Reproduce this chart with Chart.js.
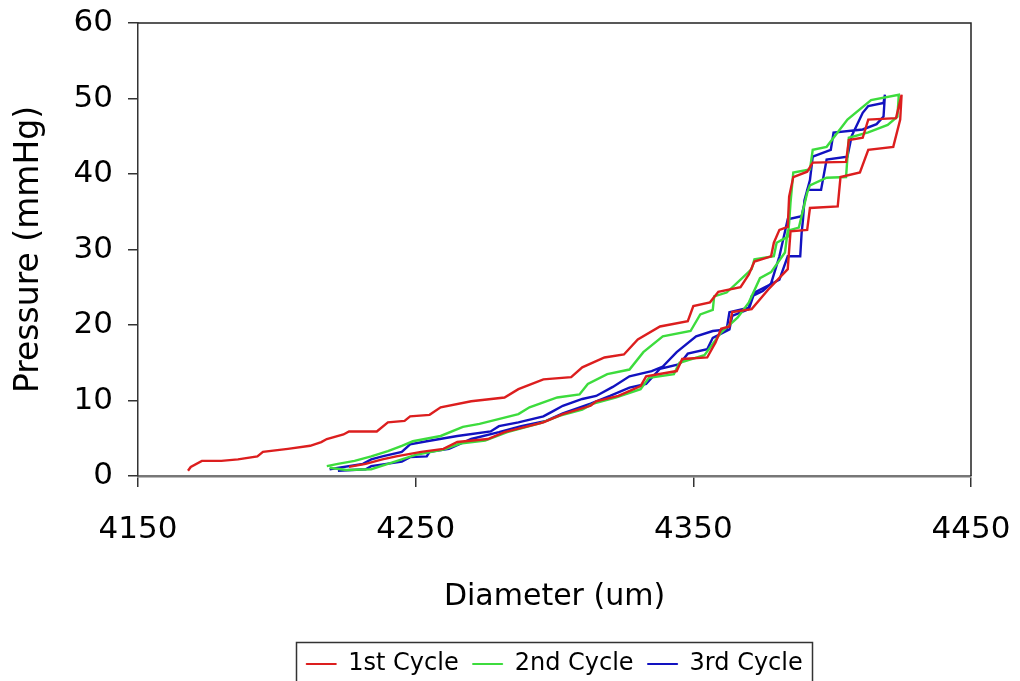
<!DOCTYPE html>
<html>
<head>
<meta charset="utf-8">
<script src="https://cdn.jsdelivr.net/npm/chart.js@4/dist/chart.umd.min.js"></script>
<style>
html,body{margin:0;padding:0;background:#fff;}
#wrap{width:1020px;height:681px;position:relative;}
</style>
</head>
<body>
<div id="wrap"><canvas id="c"></canvas></div>
<script>
// ---- data (diameter um, pressure mmHg) ----
const seriesNames = ['1st Cycle', '2nd Cycle', '3rd Cycle'];

const cycle1 = [
  [4168,0.7],[4169,1.2],[4173,2.0],[4180,2.0],[4186,2.2],[4193,2.6],[4195,3.2],[4204,3.6],
  [4212,4.0],[4216,4.5],[4218,4.9],[4224,5.5],[4226,5.9],[4236,5.9],[4240,7.1],[4246,7.3],
  [4248,7.9],[4255,8.1],[4259,9.1],[4270,9.9],[4282,10.4],[4287,11.5],[4296,12.8],[4306,13.1],
  [4310,14.4],[4318,15.7],[4325,16.1],[4330,18.1],[4338,19.8],[4348,20.5],[4350,22.5],[4356,23.0],
  [4359,24.4],[4367,25.0],[4370,26.7],[4372,28.4],[4378,29.1],[4379,30.9],[4381,32.6],[4384,33.0],
  [4384.5,37.0],[4386,39.6],[4391,40.3],[4393,41.5],[4405,41.6],[4406,44.5],[4411,44.8],[4413,47.2],
  [4423,47.4],[4425,50.5],
  [4424.5,47.2],[4422,43.6],[4413,43.2],[4410,40.2],[4403,39.6],[4402,35.7],[4392,35.5],[4391,32.6],
  [4385,32.4],[4384,27.4],[4377,24.7],[4371,22.1],[4364,21.7],[4363,19.8],[4360,19.5],[4358,17.7],
  [4355,15.7],[4346,15.5],[4344,13.9],[4333,13.2],[4331,11.9],[4323,10.6],[4315,9.9],[4313,9.3],
  [4303,8.2],[4296,7.1],[4282,5.8],[4276,4.9],[4265,4.5],[4260,3.6],[4252,3.2],[4243,2.6],
  [4238,2.2],[4232,1.6],[4226,1.2]
];

const cycle2 = [
  [4218,1.3],[4222,1.6],[4228,2.0],[4234,2.6],[4240,3.3],[4245,4.0],[4249,4.6],[4259,5.3],
  [4267,6.5],[4273,6.9],[4287,8.2],[4291,9.1],[4301,10.4],[4309,10.8],[4312,12.2],[4319,13.5],
  [4327,14.1],[4332,16.4],[4339,18.5],[4349,19.2],[4352.5,21.4],[4357,22.0],[4357.5,23.8],[4362,24.3],
  [4367,26.0],[4371,27.4],[4372,28.7],[4379,29.1],[4380,30.9],[4384,31.7],[4384.5,33.5],[4385,36.2],
  [4386,40.2],[4392,40.6],[4393,43.2],[4398,43.6],[4405.5,47.2],[4414,49.8],[4424,50.5],
  [4423.5,47.6],[4420,46.5],[4413,45.5],[4406,44.8],[4405,39.6],[4398,39.5],[4392,38.5],[4391,37.5],
  [4388,32.9],[4384,32.5],[4383,29.6],[4378,27.0],[4374,26.2],[4370,23.0],[4366,21.0],[4360,19.0],
  [4354,16.0],[4345,15.0],[4343,13.5],[4334,13.0],[4331,11.5],[4322,10.4],[4314,9.6],[4310,8.8],
  [4302,8.0],[4295,7.0],[4283,5.8],[4275,4.7],[4266,4.3],[4260,3.5],[4250,2.8],[4240,1.6],
  [4234,0.9],[4225,0.8],[4219,1.1]
];

const cycle3 = [
  [4219,0.9],[4231,1.6],[4234,2.2],[4238,2.6],[4245,3.2],[4248,4.2],[4254,4.6],[4265,5.3],
  [4277,5.9],[4280,6.6],[4287,7.1],[4296,7.9],[4299,8.5],[4303,9.3],[4310,10.2],[4315,10.6],
  [4321,11.8],[4327,13.2],[4335,13.9],[4339,14.5],[4344,16.4],[4351,18.5],[4357,19.2],[4362,19.4],
  [4363,21.7],[4370,22.3],[4371,23.8],[4375,24.5],[4378,25.5],[4381,29.1],[4384,34.0],[4389,34.4],
  [4391,37.9],[4396,37.9],[4398,41.9],[4405.5,42.3],[4407,45.0],[4411,48.1],[4413,49.0],[4418.5,49.4],
  [4419,50.5],
  [4418.5,47.6],[4416,46.6],[4411,45.9],[4400.5,45.5],[4399.5,43.2],[4393,42.3],[4392,39.2],[4390,36.5],
  [4389.5,34.0],[4389,32.2],[4388.5,29.1],[4384,29.1],[4381,26.0],[4372,24.3],[4370,22.1],[4364,21.2],
  [4363,19.4],[4357,18.3],[4355,16.8],[4348,16.2],[4345,14.8],[4338,14.2],[4333,12.2],[4327,11.7],
  [4320,10.6],[4313,9.6],[4303,8.3],[4297,7.3],[4288,6.6],[4280,5.8],[4270,4.9],[4262,3.6],
  [4255,3.2],[4254,2.6],[4248,2.5],[4245,1.9],[4234,1.3],[4232,0.9],[4222,0.7]
];

const xTicks = [4150, 4250, 4350, 4450];
const yTicks = [0, 10, 20, 30, 40, 50, 60];
const xTitle = 'Diameter (um)';
const yTitle = 'Pressure (mmHg)';
const seriesColors = ['#dc1e1e', '#3ddc3d', '#1212c0'];

// ---- chart ----
const FONT = 'DejaVu Sans';
const cycles = [cycle1, cycle2, cycle3];

const framePlugin = {
  id: 'frame',
  afterDraw(chart) {
    const {ctx, chartArea: a} = chart;
    ctx.save();
    ctx.strokeStyle = '#222';
    ctx.lineWidth = 1.5;
    ctx.beginPath();
    ctx.moveTo(a.left, a.top);
    ctx.lineTo(a.right, a.top);
    ctx.lineTo(a.right, a.bottom);
    ctx.stroke();
    // legend frame
    const lg = chart.legend;
    const hb = lg.legendHitBoxes;
    if (hb && hb.length) {
      const l = Math.round(hb[0].left - 10) + 0.5;
      const last = hb[hb.length - 1];
      const r = Math.round(last.left + last.width + 9) + 0.5;
      const t = Math.round(lg.top + 4) + 0.5;
      ctx.strokeStyle = '#333';
      ctx.lineWidth = 1.5;
      ctx.strokeRect(l, t, r - l, chart.height - t + 10);
    }
    ctx.restore();
  }
};

new Chart(document.getElementById('c'), {
  type: 'scatter',
  data: {
    datasets: cycles.map((c, i) => ({
      label: seriesNames[i],
      data: c.map(p => ({x: p[0], y: p[1]})),
      showLine: true,
      borderColor: seriesColors[i],
      backgroundColor: seriesColors[i],
      borderWidth: 2.4,
      pointRadius: 0,
      pointHoverRadius: 0,
      tension: 0,
      fill: false
    }))
  },
  options: {
    responsive: true,
    maintainAspectRatio: false,
    animation: false,
    layout: {padding: {left: 0, top: 23, right: 49, bottom: -5}},
    plugins: {
      tooltip: {enabled: false},
      legend: {
        position: 'bottom',
        fullSize: false,
        labels: {
          font: {family: FONT, size: 24},
          color: '#000',
          boxWidth: 30,
          boxHeight: 1,
          padding: 14,
          generateLabels(chart) {
            const items = Chart.defaults.plugins.legend.labels.generateLabels(chart);
            items.forEach(it => { it.lineWidth = 1; });
            return items;
          }
        }
      }
    },
    scales: {
      x: {
        type: 'linear',
        min: 4150, max: 4450,
        afterBuildTicks(s) { s.ticks = xTicks.map(v => ({value: v})); },
        afterFit(s) { s.height = 162; s.paddingLeft = 0; s.paddingRight = 0; },
        grid: {drawOnChartArea: false, drawTicks: true, tickLength: 11, color: '#333', lineWidth: 1.5},
        border: {display: true, color: '#777', width: 2.5},
        ticks: {font: {family: FONT, size: 31}, color: '#000', padding: 24, maxRotation: 0, autoSkip: false,
                callback: v => String(v)},
        title: {display: true, text: xTitle, font: {family: FONT, size: 30}, color: '#000', padding: {top: 0, bottom: 23}}
      },
      y: {
        type: 'linear',
        min: 0, max: 60,
        afterBuildTicks(s) { s.ticks = yTicks.map(v => ({value: v})); },
        afterFit(s) { s.width = 138; s.paddingTop = 0; s.paddingBottom = 0; },
        grid: {drawOnChartArea: false, drawTicks: true, tickLength: 10, color: '#333', lineWidth: 1.5},
        border: {display: true, color: '#333', width: 1.5},
        ticks: {font: {family: FONT, size: 31}, color: '#000', padding: 15, autoSkip: false,
                callback: v => String(v)},
        title: {display: true, text: yTitle, font: {family: FONT, size: 33}, color: '#000', padding: {top: 10, bottom: 0}}
      }
    }
  },
  plugins: [framePlugin]
});
</script>
</body>
</html>
